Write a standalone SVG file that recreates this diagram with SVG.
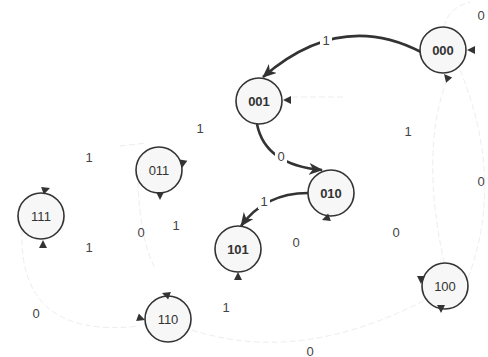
<svg xmlns="http://www.w3.org/2000/svg" xmlns:xlink="http://www.w3.org/1999/xlink" width="488" height="357" viewBox="0 0 488 357">
<style>
.node circle{fill:#f7f7f7;stroke:#333;stroke-width:1.6}
.nt{font-family:"Liberation Sans",Arial,sans-serif;font-size:13px;fill:#333;text-anchor:middle;dominant-baseline:central}
.b{font-weight:bold}
.lbl{font-family:"Liberation Sans",Arial,sans-serif;font-size:13px;fill:#444;text-anchor:middle;dominant-baseline:central}
.bold{fill:none;stroke:#333;stroke-width:2.6}
.faint{fill:none;stroke:#ededed;stroke-width:1;stroke-dasharray:6 3}
.tri{fill:#333}
</style>
<defs>
<marker id="ah" markerUnits="userSpaceOnUse" markerWidth="16" markerHeight="12" refX="13" refY="6" orient="auto">
<path d="M0,0 L14,6 L0,12 L4,6 Z" fill="#333"/>
</marker>
<path id="t" d="M0,0 L-8,-4 L-8,4 Z"/>
</defs>
<rect width="488" height="357" fill="#fff"/>
<g id="connectors">
<path class="faint" d="M460 70 Q505 180 468 278"/>
<path class="faint" d="M447 80 Q420 150 444 262"/>
<path class="faint" d="M444 27 Q448 8 470 2"/>
<path class="faint" d="M292 97 L345 97"/>
<path class="faint" d="M192 330 Q300 365 425 300"/>
<path class="faint" d="M22 230 Q18 340 140 326"/>
<path class="faint" d="M120 146 L147 143"/>
<path class="faint" d="M138 182 Q140 240 155 268"/>
<path class="bold" marker-end="url(#ah)" d="M421 52 Q340 10 263 77"/>
<path class="bold" marker-end="url(#ah)" d="M257 124 Q265 165 322 170"/>
<path class="bold" marker-end="url(#ah)" d="M308 193 Q265 193 241 226"/>
<rect x="320" y="31" width="12" height="16" fill="#fff"/>
<rect x="275" y="148" width="12" height="16" fill="#fff"/>
<rect x="258" y="193" width="12" height="16" fill="#fff"/>
<text class="lbl" x="326" y="40">1</text>
<text class="lbl" x="281" y="156">0</text>
<text class="lbl" x="264" y="201">1</text>
<text class="lbl" x="481" y="15">0</text>
<text class="lbl" x="200" y="128">1</text>
<text class="lbl" x="89" y="157">1</text>
<text class="lbl" x="408" y="131">1</text>
<text class="lbl" x="481" y="181">0</text>
<text class="lbl" x="141" y="232">0</text>
<text class="lbl" x="176" y="225">1</text>
<text class="lbl" x="89" y="247">1</text>
<text class="lbl" x="296" y="242">0</text>
<text class="lbl" x="396" y="232">0</text>
<text class="lbl" x="36" y="313">0</text>
<text class="lbl" x="226" y="307">1</text>
<text class="lbl" x="310" y="351">0</text>
</g>
<g id="n000" class="node"><circle cx="443" cy="50" r="23"/><text class="nt b" x="443" y="50">000</text>
<use class="tri" href="#t" transform="translate(467,50) rotate(180)"/>
<use class="tri" href="#t" transform="translate(444,74) rotate(-130)"/></g>
<g id="n001" class="node"><circle cx="259" cy="101" r="23"/><text class="nt b" x="259" y="101">001</text>
<use class="tri" href="#t" transform="translate(283,100) rotate(180)"/></g>
<g id="n010" class="node"><circle cx="331" cy="193" r="23"/><text class="nt b" x="331" y="193">010</text>
<use class="tri" href="#t" transform="translate(322,220) rotate(160)"/></g>
<g id="n101" class="node"><circle cx="238" cy="249" r="23"/><text class="nt b" x="238" y="249">101</text>
<use class="tri" href="#t" transform="translate(238,272) rotate(-90)"/></g>
<g id="n011" class="node"><circle cx="159" cy="170" r="23"/><text class="nt" x="159" y="170">011</text>
<use class="tri" href="#t" transform="translate(182,168) rotate(100)"/>
<use class="tri" href="#t" transform="translate(160,200) rotate(90)"/></g>
<g id="n111" class="node"><circle cx="41" cy="216" r="23"/><text class="nt" x="41" y="216">111</text>
<use class="tri" href="#t" transform="translate(50,188) rotate(-20)"/>
<use class="tri" href="#t" transform="translate(43,240) rotate(-90)"/></g>
<g id="n110" class="node"><circle cx="168" cy="319" r="23"/><text class="nt" x="168" y="319">110</text>
<use class="tri" href="#t" transform="translate(162,293) rotate(200)"/>
<use class="tri" href="#t" transform="translate(145,320) rotate(20)"/></g>
<g id="n100" class="node"><circle cx="445" cy="286" r="23"/><text class="nt" x="445" y="286">100</text>
<use class="tri" href="#t" transform="translate(421,284) rotate(90)"/>
<use class="tri" href="#t" transform="translate(441,313) rotate(90)"/></g>
</svg>
